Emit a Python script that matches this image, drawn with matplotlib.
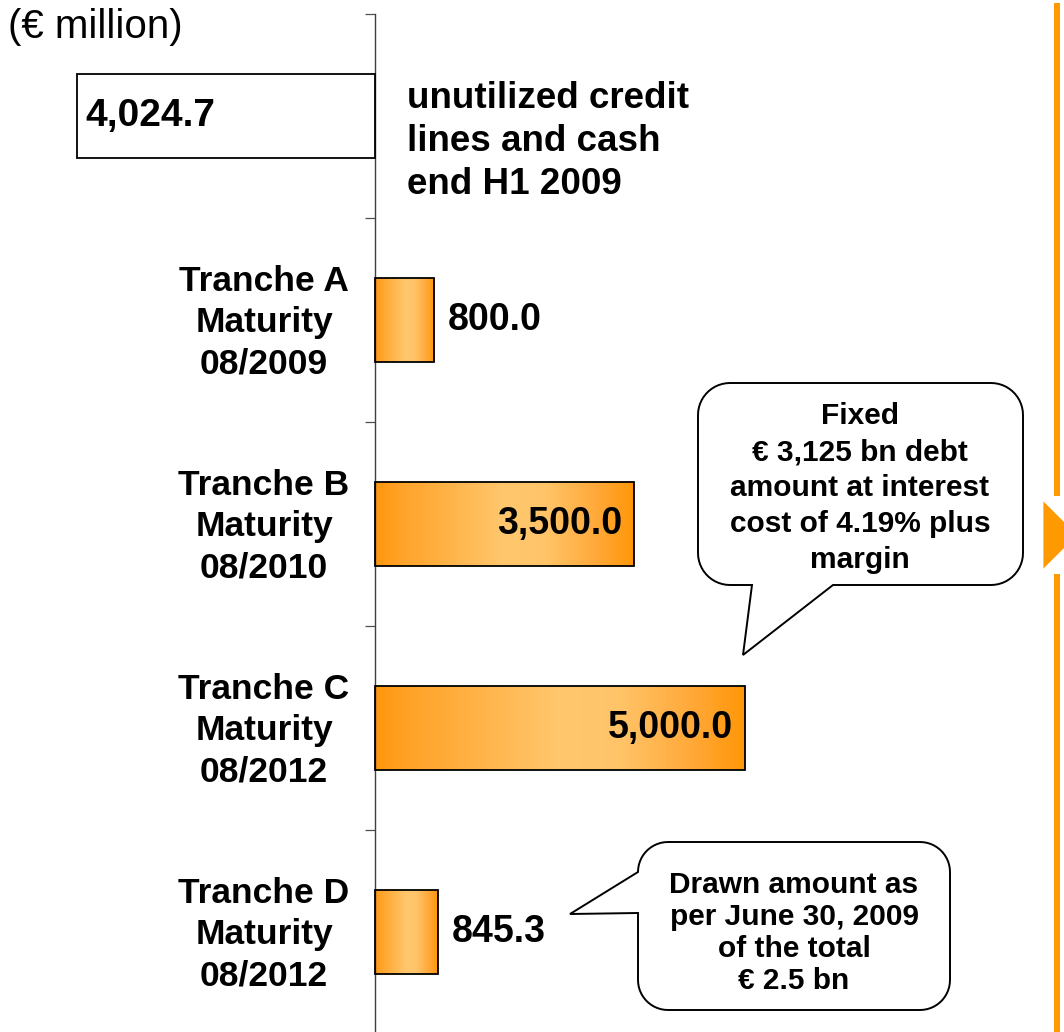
import numpy as np
import matplotlib.pyplot as plt
from matplotlib.colors import LinearSegmentedColormap
from matplotlib.patches import Rectangle, Polygon

plt.rcParams["font.family"] = ["Liberation Sans", "DejaVu Sans"]

# data
categories = ["", "Tranche A\nMaturity\n08/2009", "Tranche B\nMaturity\n08/2010",
              "Tranche C\nMaturity\n08/2012", "Tranche D\nMaturity\n08/2012"]
values = [-4024.7, 800.0, 3500.0, 5000.0, 845.3]
unit_label = "(€ million)"
first_note = "unutilized credit\nlines and cash\nend H1 2009"
note_fixed = "Fixed\n€ 3,125 bn debt\namount at interest\ncost of 4.19% plus\nmargin"
note_drawn = "Drawn amount as\nper June 30, 2009\nof the total\n€ 2.5 bn"

W, H = 1064, 1032
fig = plt.figure(figsize=(W / 100, H / 100), dpi=100)

# main axes: 5 bands of 204 px starting 14 px from top
ax = fig.add_axes([0, -2 / H, 1, 1020 / H])
k = 0.074  # px per EUR million
x0_px = 375

orange = LinearSegmentedColormap.from_list("bar", [
    (0.0, (1.0, 0.59, 0.05)), (0.1, (1.0, 0.64, 0.16)), (0.5, (1.0, 0.78, 0.43)),
    (0.66, (1.0, 0.77, 0.41)), (0.86, (1.0, 0.66, 0.22)), (1.0, (1.0, 0.59, 0.03))])
grad = np.linspace(0, 1, 256).reshape(1, -1)

bh = 0.41
for i, v in enumerate(values):
    if v < 0:
        ax.add_patch(Rectangle((v, i - bh / 2), -v, bh, facecolor="white",
                               edgecolor="black", lw=1.3, zorder=3))
        ax.text(v + 8 / k, i, f"{abs(v):,.1f}", ha="left", va="center",
                fontsize=28, fontweight="bold", zorder=4)
    else:
        ax.imshow(grad, extent=(0, v, i + bh / 2, i - bh / 2), cmap=orange,
                  aspect="auto", zorder=2, interpolation="bilinear")
        ax.add_patch(Rectangle((0, i - bh / 2), v, bh, facecolor="none",
                               edgecolor="black", lw=1.3, zorder=3))
        if v > 2000:
            ax.text(v - 12 / k, i, f"{v:,.1f}", ha="right", va="center",
                    fontsize=27, fontweight="bold", zorder=4)
        else:
            ax.text(v + 14 / k, i, f"{v:,.1f}", ha="left", va="center",
                    fontsize=27, fontweight="bold", zorder=4)

for i, c in enumerate(categories):
    if c:
        ax.text(-111 / k, i + 0.012, c, ha="center", va="center", fontsize=25.5,
                fontweight="bold", linespacing=1.31, multialignment="center")

ax.text(32 / k, 0.125, first_note, ha="left", va="center", fontsize=26.5,
        fontweight="bold", linespacing=1.3)

ax.set_xlim(-x0_px / k, (W - x0_px) / k)
ax.set_ylim(len(values) - 0.5, -0.5)
for s in ["top", "right", "bottom"]:
    ax.spines[s].set_visible(False)
ax.spines["left"].set_position(("data", 0))
ax.spines["left"].set_color("#404040")
ax.spines["left"].set_linewidth(1.0)
ax.set_yticks(np.arange(-0.5, len(values), 1.0))
ax.set_yticklabels([])
ax.tick_params(axis="y", direction="out", length=7.5, width=0.9, color="#505050")
ax.set_xticks([])
ax.patch.set_alpha(0)

# overlay in pixel coordinates for callouts and the arrow
ov = fig.add_axes([0, 0, 1, 1], zorder=5)
ov.set_xlim(0, W)
ov.set_ylim(H, 0)
ov.axis("off")

ov.text(8, 27, unit_label, ha="left", va="center", fontsize=29)


def arc(cx, cy, r, a0, a1, n=14):
    a = np.radians(np.linspace(a0, a1, n))
    return list(zip(cx + r * np.cos(a), cy + r * np.sin(a)))


def bubble(x0, y0, x1, y1, r, tail, side):
    tl = arc(x0 + r, y0 + r, r, 180, 270)
    tr = arc(x1 - r, y0 + r, r, 270, 360)
    br = arc(x1 - r, y1 - r, r, 0, 90)
    bl = arc(x0 + r, y1 - r, r, 90, 180)
    pts = tl + tr + br + tail + bl if side == "bottom" else tl + tr + br + bl + tail
    ov.add_patch(Polygon(pts, closed=True, facecolor="white", edgecolor="black",
                         lw=1.4, joinstyle="miter"))


bubble(698, 383, 1023, 585, 32, [(833, 585), (743, 655), (752, 585)], "bottom")
ov.text(860, 488, note_fixed, ha="center", va="center", fontsize=21.5,
        fontweight="bold", linespacing=1.36, multialignment="center")

bubble(638, 842, 950, 1010, 30, [(638, 913), (570, 914), (638, 872)], "left")
ov.text(794, 933, note_drawn, ha="center", va="center", fontsize=21.5,
        fontweight="bold", linespacing=1.17, multialignment="center")

# orange arrow line on the right
ov.plot([1057, 1057], [3, 496], color="#FF9900", lw=4.3, solid_capstyle="butt")
ov.plot([1057, 1057], [574, H], color="#FF9900", lw=4.3, solid_capstyle="butt")
ov.add_patch(Polygon([(1042, 498), (1042, 572), (1079, 535)], closed=True,
                     facecolor="#FF9900", edgecolor="white", lw=2))

fig.savefig("out.png", dpi=100, facecolor="white")
